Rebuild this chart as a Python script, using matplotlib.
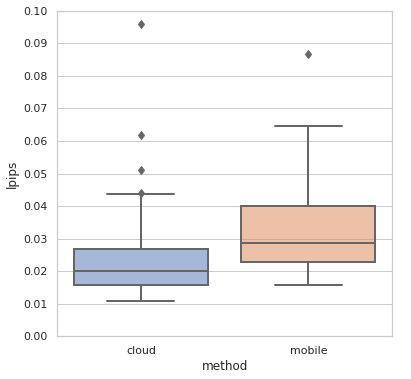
import matplotlib
matplotlib.use("Agg")
import matplotlib.pyplot as plt
import seaborn as sns

sns.set_theme(style="whitegrid")

# box summary values
methods = ["cloud", "mobile"]
q1 = [0.0156, 0.0228]
med = [0.0202, 0.0288]
q3 = [0.0269, 0.0399]
whislo = [0.0108, 0.0159]
whishi = [0.0438, 0.0646]
fliers = [[0.0958, 0.0617, 0.0512, 0.0440], [0.0866]]

colors = sns.color_palette("deep", 2)

stats = []
for i, m in enumerate(methods):
    stats.append({"label": m, "q1": q1[i], "med": med[i], "q3": q3[i],
                  "whislo": whislo[i], "whishi": whishi[i], "fliers": fliers[i]})

fig = plt.figure(figsize=(411 / 72, 379 / 72), dpi=72)
ax = fig.add_axes([0.139, 0.1127, 0.815, 0.859])

lc = "#666666"
bp = ax.bxp(stats, positions=[0, 1], widths=0.8, patch_artist=True,
            boxprops=dict(edgecolor=lc, linewidth=2),
            medianprops=dict(color=lc, linewidth=2),
            whiskerprops=dict(color=lc, linewidth=2),
            capprops=dict(color=lc, linewidth=2),
            capwidths=0.4,
            flierprops=dict(marker="d", markerfacecolor=lc, markeredgecolor=lc,
                            markersize=6))
for patch, c in zip(bp["boxes"], colors):
    patch.set_facecolor((*c, 0.5))
    patch.set_zorder(2)

ax.set_xlim(-0.5, 1.5)
ax.set_ylim(0, 0.1)
ax.set_yticks([i / 100 for i in range(11)])
ax.set_yticklabels([f"{i / 100:.2f}" for i in range(11)], fontsize=11)
ax.set_xticks([0, 1])
ax.set_xticklabels(methods, fontsize=11)
ax.xaxis.grid(False)
ax.set_xlabel("method", fontsize=12)
ax.set_ylabel("lpips", fontsize=12)
for s in ax.spines.values():
    s.set_color("#cccccc")

fig.savefig("out.png", dpi=72)
